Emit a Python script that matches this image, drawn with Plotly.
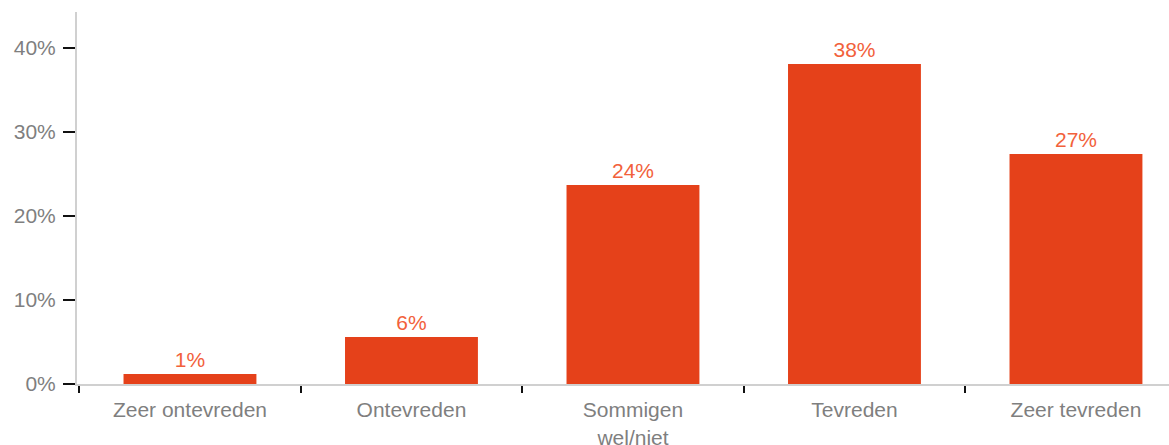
import plotly.graph_objects as go

# Survey answers and share of respondents (%)
categories = ['Zeer ontevreden', 'Ontevreden', 'Sommigen<br>wel/niet', 'Tevreden', 'Zeer tevreden']
shares = [1.2, 5.6, 23.7, 38.1, 27.4]
labels = ['1%', '6%', '24%', '38%', '27%']
y_ticks = [0, 10, 20, 30, 40]
y_tick_labels = ['0%', '10%', '20%', '30%', '40%']

bar_color = '#E5411A'
label_color = '#F2613B'
tick_font_color = '#7f7f7f'

fig = go.Figure()

fig.add_trace(go.Bar(
    x=categories,
    y=shares,
    text=labels,
    textposition='outside',
    textfont=dict(color=label_color, size=21),
    marker=dict(color=bar_color, line=dict(width=0)),
    width=0.6,
    cliponaxis=False,
    hoverinfo='skip'
))

fig.update_layout(
    width=1169,
    height=445,
    margin=dict(l=77, r=0, t=12, b=61, autoexpand=False),
    paper_bgcolor='white',
    plot_bgcolor='white',
    font=dict(family='Liberation Sans', size=21, color=tick_font_color),
    showlegend=False,
    bargap=0.4,
)

fig.update_xaxes(
    range=[-0.51, 4.42],
    showline=True,
    linecolor='#d0d0d0',
    linewidth=2,
    ticks='outside',
    tickson='boundaries',
    ticklen=7,
    tickwidth=2,
    tickcolor='#111111',
    showgrid=False,
    ticklabelstandoff=6,
    tickfont=dict(size=21, color=tick_font_color),
)

fig.update_yaxes(
    range=[0, 44.3],
    tickmode='array',
    tickvals=y_ticks,
    ticktext=y_tick_labels,
    showline=True,
    linecolor='#d0d0d0',
    linewidth=2,
    ticks='outside',
    ticklen=12,
    tickwidth=2,
    tickcolor='#111111',
    showgrid=False,
    zeroline=False,
    ticklabelstandoff=3,
    tickfont=dict(size=21, color=tick_font_color),
)

# drop the default page margin so the chart sits at the top-left corner
fig.write_html('out.html', config={'displayModeBar': False},
               post_script="document.body.style.margin='0';")
